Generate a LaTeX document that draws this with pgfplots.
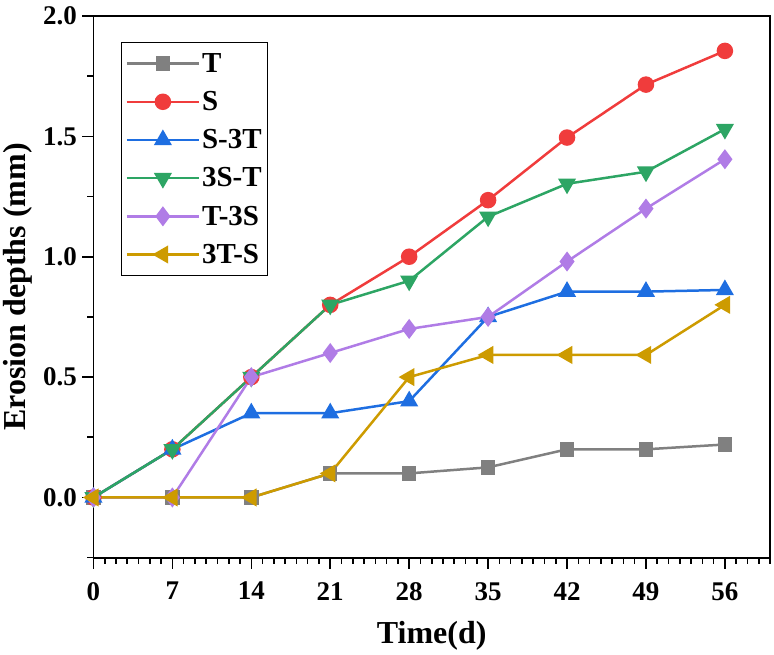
\documentclass[border=0pt]{standalone}
\usepackage{fontspec}
\setmainfont{Liberation Serif}
\usepackage{pgfplots}
\pgfplotsset{compat=1.18}
\usetikzlibrary{calc}
\definecolor{cT}{RGB}{128,128,128}
\definecolor{cS}{RGB}{240,60,60}
\definecolor{cSTT}{RGB}{30,110,225}
\definecolor{cSST}{RGB}{45,165,100}
\definecolor{cTSS}{RGB}{176,124,230}
\definecolor{cTTS}{RGB}{205,155,0}
\begin{document}
\begin{tikzpicture}
\begin{axis}[
  scale only axis, width=677pt, height=542pt,
  xmin=0, xmax=60, ymin=-0.25, ymax=2.0,
  xtick={0,7,...,56}, minor xtick={0,1,...,60},
  ytick={0,0.5,1,1.5,2}, minor ytick={-0.25,0.25,0.75,1.25,1.75},
  tick align=outside, xtick pos=bottom, ytick pos=left,
  major tick length=11pt, minor tick length=6pt,
  every tick/.style={black, line width=1.6pt},
  axis line style={line width=1.8pt},
  /pgf/number format/assume math mode=true,
  yticklabel style={/pgf/number format/fixed, /pgf/number format/fixed zerofill, /pgf/number format/precision=1, xshift=-2pt},
  xticklabel style={yshift=-10pt},
  tick label style={font=\fontsize{27}{32}\selectfont\bfseries},
  xlabel={Time(d)}, ylabel={Erosion depths (mm)},
  label style={font=\fontsize{32}{38}\selectfont\bfseries},
  xlabel style={yshift=-14pt},
  ylabel style={yshift=4pt},
  legend style={at={(0.041,0.952)}, anchor=north west, draw=black, line width=1pt,
    font=\fontsize{29}{34}\selectfont\bfseries, row sep=13.5pt, inner xsep=4pt, inner ysep=9pt},
  legend cell align=left,
  legend image code/.code={\draw[mark repeat=2,mark phase=2] plot coordinates {(0pt,0pt) (36pt,0pt) (72pt,0pt)};},
  every axis plot/.append style={line width=2.5pt},
]
\addplot[color=cT, mark=square*, mark size=6pt, mark options={solid}] coordinates {
(0,0) (7,0) (14,0) (21,0.1) (28,0.1) (35,0.125) (42,0.2) (49,0.2) (56,0.22)};
\addlegendentry{T}
\addplot[color=cS, mark=*, mark size=7pt] coordinates {
(0,0) (7,0.2) (14,0.5) (21,0.8) (28,1.0) (35,1.235) (42,1.495) (49,1.715) (56,1.855)};
\addlegendentry{S}
\addplot[color=cSTT, mark=triangle*, mark size=8pt] coordinates {
(0,0) (7,0.2) (14,0.35) (21,0.35) (28,0.4) (35,0.75) (42,0.855) (49,0.855) (56,0.862)};
\addlegendentry{S-3T}
\addplot[color=cSST, mark=triangle*, mark size=8pt, mark options={rotate=180}] coordinates {
(0,0) (7,0.2) (14,0.5) (21,0.8) (28,0.9) (35,1.166) (42,1.303) (49,1.353) (56,1.53)};
\addlegendentry{3S-T}
\addplot[color=cTSS, mark=diamond*, mark size=8pt] coordinates {
(0,0) (7,0) (14,0.5) (21,0.6) (28,0.7) (35,0.75) (42,0.98) (49,1.2) (56,1.405)};
\addlegendentry{T-3S}
\addplot[color=cTTS, mark=triangle*, mark size=8pt, mark options={rotate=90}] coordinates {
(0,0) (7,0) (14,0) (21,0.1) (28,0.5) (35,0.592) (42,0.592) (49,0.592) (56,0.8)};
\addlegendentry{3T-S}
\end{axis}
\path ($(current axis.south west)+(-93pt,-97pt)$) rectangle ($(current axis.north east)+(4pt,16pt)$);
\end{tikzpicture}
\end{document}
